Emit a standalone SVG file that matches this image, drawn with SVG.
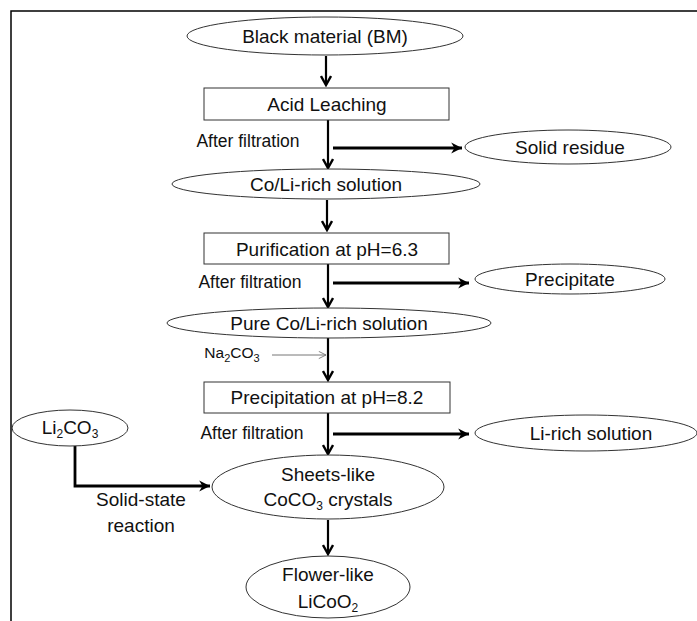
<svg xmlns="http://www.w3.org/2000/svg" width="697" height="621" viewBox="0 0 697 621">
<defs>
<style>
text{font-family:"Liberation Sans",Arial,sans-serif;fill:#111;text-anchor:middle}
.n{font-size:19px}
.s{font-size:17.5px}
.node{fill:#fff;stroke:#333;stroke-width:1}
.c{fill:none;stroke:#000;stroke-width:2.2}
.h{fill:none;stroke:#000;stroke-width:2.8}
.t{fill:none;stroke:#777;stroke-width:1}
</style>
<marker id="ah" viewBox="0 0 12 12" refX="10" refY="6" markerWidth="12" markerHeight="12" markerUnits="userSpaceOnUse" orient="auto">
<path d="M1,1 L10,6 L1,11" fill="none" stroke="#000" stroke-width="2.4"/>
</marker>
<marker id="ah2" viewBox="0 0 12 12" refX="11" refY="6" markerWidth="13" markerHeight="13" markerUnits="userSpaceOnUse" orient="auto">
<path d="M1,1 L11,6 L1,11 L4,6 Z" fill="#000"/>
</marker>
<marker id="ah3" viewBox="0 0 10 10" refX="9" refY="5" markerWidth="9" markerHeight="9" markerUnits="userSpaceOnUse" orient="auto">
<path d="M1,1 L9,5 L1,9" fill="none" stroke="#777" stroke-width="1"/>
</marker>
</defs>
<rect width="697" height="621" fill="#fff"/>
<path d="M11,621 V11 H697" fill="none" stroke="#000" stroke-width="1.5"/>

<g id="connectors">
<line class="c" x1="326" y1="56" x2="326" y2="85" marker-end="url(#ah)"/>
<line class="c" x1="328" y1="120" x2="328" y2="168" marker-end="url(#ah)"/>
<line class="h" x1="333" y1="148" x2="462" y2="148" marker-end="url(#ah2)"/>
<line class="c" x1="327" y1="200" x2="327" y2="230" marker-end="url(#ah)"/>
<line class="c" x1="328" y1="264" x2="328" y2="307" marker-end="url(#ah)"/>
<line class="h" x1="333" y1="283" x2="469" y2="283" marker-end="url(#ah2)"/>
<line class="c" x1="328" y1="338" x2="328" y2="380" marker-end="url(#ah)"/>
<line class="t" x1="272" y1="355" x2="326" y2="355" marker-end="url(#ah3)"/>
<line class="c" x1="328" y1="413" x2="328" y2="454" marker-end="url(#ah)"/>
<line class="h" x1="333" y1="434" x2="469" y2="434" marker-end="url(#ah2)"/>
<polyline class="h" points="75,446 75,486 210,486" marker-end="url(#ah2)"/>
<line class="c" x1="328" y1="520" x2="328" y2="554" marker-end="url(#ah)"/>
</g>

<g id="black-material">
<ellipse class="node" cx="325" cy="36" rx="138" ry="19"/>
<text class="n" x="325" y="43">Black material (BM)</text>
</g>
<g id="acid-leaching">
<rect class="node" x="204" y="88" width="245" height="32"/>
<text class="n" x="327" y="111">Acid Leaching</text>
</g>
<text class="s" x="248" y="147">After filtration</text>
<g id="solid-residue">
<ellipse class="node" cx="568" cy="147" rx="103" ry="17"/>
<text class="n" x="570" y="154">Solid residue</text>
</g>
<g id="co-li-rich">
<ellipse class="node" cx="326" cy="184" rx="154" ry="15"/>
<text class="n" x="326" y="191">Co/Li-rich solution</text>
</g>
<g id="purification">
<rect class="node" x="204" y="233" width="245" height="31"/>
<text class="n" x="327" y="256">Purification at pH=6.3</text>
</g>
<text class="s" x="250" y="288">After filtration</text>
<g id="precipitate">
<ellipse class="node" cx="570" cy="279" rx="95" ry="15"/>
<text class="n" x="570" y="286">Precipitate</text>
</g>
<g id="pure-co-li">
<ellipse class="node" cx="329" cy="323" rx="162" ry="15"/>
<text class="n" x="329" y="330">Pure Co/Li-rich solution</text>
</g>
<text class="s" x="232" y="358" style="font-size:15.5px">Na<tspan font-size="11" dy="4">2</tspan><tspan dy="-4">CO</tspan><tspan font-size="11" dy="4">3</tspan></text>
<g id="precipitation">
<rect class="node" x="204" y="382" width="246" height="31"/>
<text class="n" x="327" y="404">Precipitation at pH=8.2</text>
</g>
<g id="li2co3">
<ellipse class="node" cx="70" cy="428" rx="58" ry="18"/>
<text class="n" x="70" y="434">Li<tspan font-size="12" dy="4">2</tspan><tspan dy="-4">CO</tspan><tspan font-size="12" dy="4">3</tspan></text>
</g>
<text class="s" x="252" y="439">After filtration</text>
<g id="li-rich">
<ellipse class="node" cx="586" cy="433" rx="111" ry="18"/>
<text class="n" x="591" y="440">Li-rich solution</text>
</g>
<g id="sheets-like">
<ellipse class="node" cx="328" cy="487" rx="116" ry="32"/>
<text class="n" x="328" y="481">Sheets-like</text>
<text class="n" x="328" y="506">CoCO<tspan font-size="12" dy="4">3</tspan><tspan dy="-4"> crystals</tspan></text>
</g>
<text class="n" x="141" y="506">Solid-state</text>
<text class="n" x="141" y="532">reaction</text>
<g id="flower-like">
<ellipse class="node" cx="328" cy="587" rx="82" ry="31"/>
<text class="n" x="328" y="581">Flower-like</text>
<text class="n" x="328" y="608">LiCoO<tspan font-size="12" dy="4">2</tspan></text>
</g>
</svg>
